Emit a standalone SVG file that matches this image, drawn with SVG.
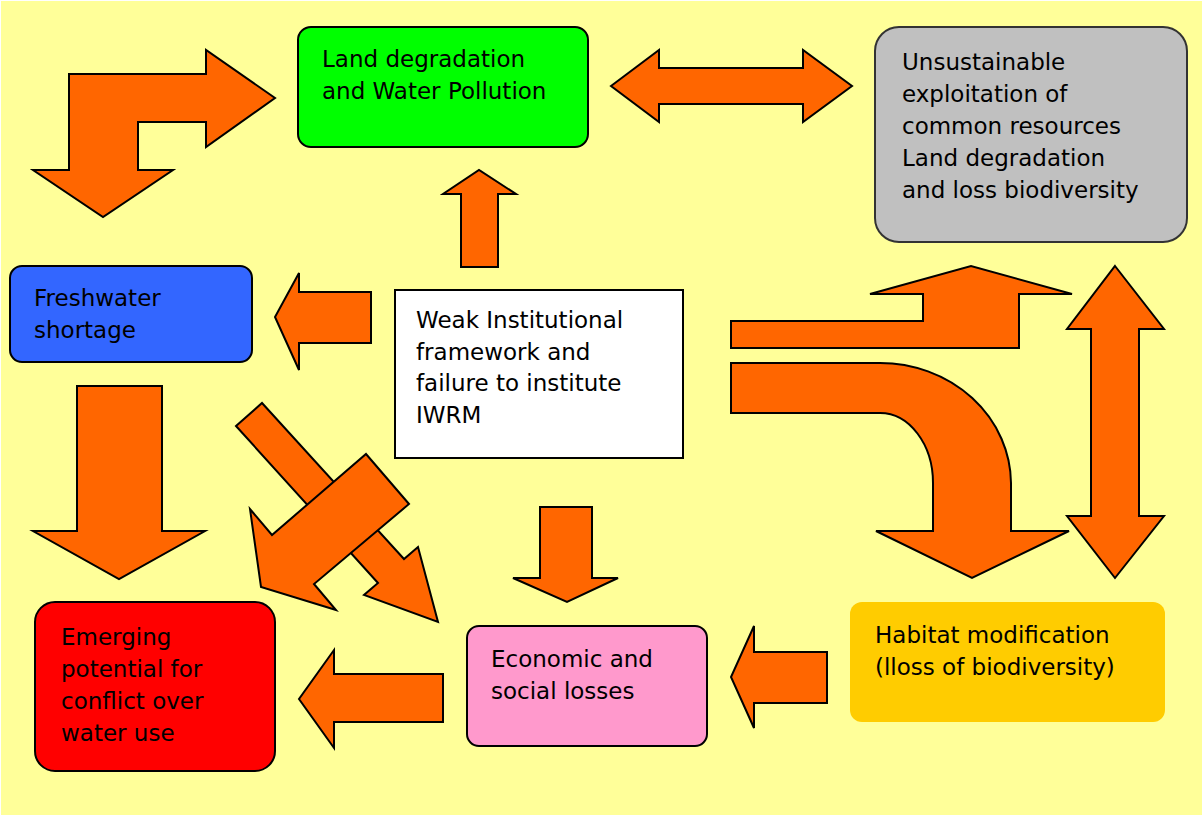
<svg xmlns="http://www.w3.org/2000/svg" width="1203" height="816" viewBox="0 0 1203 816">
  <style>
    .arrow { fill: #FF6600; stroke: #000; stroke-width: 2; stroke-linejoin: miter; }
    .box { stroke: #000; stroke-width: 2; }
    .label { font-family: "DejaVu Sans", Verdana, sans-serif; font-size: 23px; fill: #000; }
  </style>

  <rect x="0" y="0" width="1203" height="816" fill="#FFFFFF"/>
  <rect x="1" y="1" width="1201" height="814" fill="#FFFF99"/>

  <!-- connectors -->
  <g id="connectors">
    <!-- bent arrow: freshwater up and over to land degradation -->
    <path class="arrow" d="M69,74 L206,74 L206,50 L275,98 L206,147 L206,122 L138,122 L138,170 L173,170 L103,217 L33,170 L69,170 Z"/>
    <!-- land degradation <-> unsustainable exploitation -->
    <path class="arrow" d="M611,86 L659,50 L659,68 L803,68 L803,50 L852,86 L803,122 L803,104 L659,104 L659,122 Z"/>
    <!-- weak framework -> land degradation -->
    <path class="arrow" d="M461,267 L461,194 L443,194 L479,170 L516,194 L498,194 L498,267 Z"/>
    <!-- weak framework -> freshwater -->
    <path class="arrow" d="M371,292 L299,292 L299,273 L275,317 L299,370 L299,343 L371,343 Z"/>
    <!-- weak framework -> unsustainable exploitation -->
    <path class="arrow" d="M731,348 L731,321 L923,321 L923,294 L870,294 L971,266 L1072,294 L1019,294 L1019,348 Z"/>
    <!-- weak framework -> habitat (curved) -->
    <path class="arrow" d="M731,363 L880,363 A131,121 0 0 1 1011,483 L1011,531 L1069,531 L972,578 L876,531 L933,531 L933,483 A53,70 0 0 0 880,413 L731,413 Z"/>
    <!-- unsustainable exploitation <-> habitat -->
    <path class="arrow" d="M1115,266 L1164,329 L1139,329 L1139,516 L1164,516 L1115,578 L1067,516 L1091,516 L1091,329 L1067,329 Z"/>
    <!-- freshwater -> emerging conflict -->
    <path class="arrow" d="M77,386 L162,386 L162,531 L205,531 L119,579 L33,531 L77,531 Z"/>
    <!-- freshwater -> economic losses (diagonal) -->
    <path class="arrow" d="M236,426 L262,403 L404,559 L418,547 L438,622 L364,595 L378,583 Z"/>
    <!-- weak framework -> emerging conflict (diagonal) -->
    <path class="arrow" d="M366,454 L409,504 L314,584 L336,610 L261,587 L250,509 L272,535 Z"/>
    <!-- weak framework -> economic losses -->
    <path class="arrow" d="M540,507 L592,507 L592,578 L618,578 L567,602 L513,578 L540,578 Z"/>
    <!-- economic losses -> emerging conflict -->
    <path class="arrow" d="M443,674 L334,674 L334,650 L299,699 L334,748 L334,722 L443,722 Z"/>
    <!-- habitat -> economic losses -->
    <path class="arrow" d="M827,652 L754,652 L754,626 L731,677 L754,728 L754,703 L827,703 Z"/>
  </g>

  <g id="land-degradation">
    <rect class="box" x="298" y="27" width="290" height="120" rx="13" fill="#00FF00"/>
    <text class="label" x="322" y="67">Land degradation</text>
    <text class="label" x="322" y="99">and Water Pollution</text>
  </g>

  <g id="unsustainable-exploitation">
    <rect x="875" y="27" width="312" height="215" rx="24" fill="#C0C0C0" stroke="#333" stroke-width="2"/>
    <text class="label" x="902" y="70">Unsustainable</text>
    <text class="label" x="902" y="102">exploitation of</text>
    <text class="label" x="902" y="134">common resources</text>
    <text class="label" x="902" y="166">Land degradation</text>
    <text class="label" x="902" y="198">and loss biodiversity</text>
  </g>

  <g id="freshwater">
    <rect class="box" x="10" y="266" width="242" height="96" rx="12" fill="#3366FF"/>
    <text class="label" x="34" y="306">Freshwater</text>
    <text class="label" x="34" y="338">shortage</text>
  </g>

  <g id="weak-framework">
    <rect class="box" x="395" y="290" width="288" height="168" fill="#FFFFFF"/>
    <text class="label" x="416" y="328">Weak Institutional</text>
    <text class="label" x="416" y="360">framework and</text>
    <text class="label" x="416" y="391">failure to institute</text>
    <text class="label" x="416" y="423">IWRM</text>
  </g>

  <g id="emerging-conflict">
    <rect class="box" x="35" y="602" width="240" height="169" rx="20" fill="#FF0000"/>
    <text class="label" x="61" y="645">Emerging</text>
    <text class="label" x="61" y="677">potential for</text>
    <text class="label" x="61" y="709">conflict over</text>
    <text class="label" x="61" y="741">water use</text>
  </g>

  <g id="economic-losses">
    <rect class="box" x="467" y="626" width="240" height="120" rx="12" fill="#FF99CC"/>
    <text class="label" x="491" y="667">Economic and</text>
    <text class="label" x="491" y="699">social losses</text>
  </g>

  <g id="habitat-modification">
    <rect x="850" y="602" width="315" height="120" rx="12" fill="#FFCC00"/>
    <text class="label" x="875" y="643">Habitat modification</text>
    <text class="label" x="875" y="675">(lloss of biodiversity)</text>
  </g>
</svg>
